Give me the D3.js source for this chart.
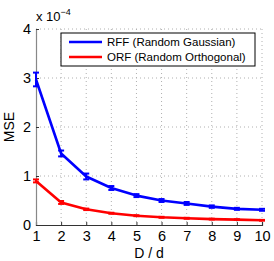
<!DOCTYPE html>
<html>
<head>
<meta charset="utf-8">
<script src="https://cdn.jsdelivr.net/npm/d3@7"></script>
<style>
  body { margin: 0; background: #fff; }
  text { font-family: "Liberation Sans", Arial, sans-serif; }
</style>
</head>
<body>
<div id="chart"></div>
<script>
// data (MSE in units of 1e-4)
var ratios = [1, 2, 3, 4, 5, 6, 7, 8, 9, 10];
var rffMse = [2.97, 1.46, 0.99, 0.755, 0.6, 0.5, 0.44, 0.375, 0.33, 0.31];
var rffErr = [0.14, 0.06, 0.06, 0.04, 0.03, 0.03, 0.03, 0.025, 0.02, 0.02];
var orfMse = [0.9, 0.46, 0.32, 0.24, 0.19, 0.157, 0.137, 0.12, 0.11, 0.096];
var orfErr = [0.03, 0.03, 0.015, 0.01, 0.01, 0.01, 0.01, 0.008, 0.008, 0.008];
var xTicks = [1, 2, 3, 4, 5, 6, 7, 8, 9, 10];
var yTicks = [0, 1, 2, 3, 4];
var seriesNames = ['RFF (Random Gaussian)', 'ORF (Random Orthogonal)'];
var seriesColors = ['#0000ff', '#ff0000'];

var svgWidth = 274, svgHeight = 261;
var margin = { top: 29, right: 12, bottom: 36, left: 36 };
var width = svgWidth - margin.left - margin.right;
var height = svgHeight - margin.top - margin.bottom;

var svg = d3.select('#chart').append('svg')
    .attr('width', svgWidth)
    .attr('height', svgHeight);

var chartGroup = svg.append('g')
    .attr('transform', `translate(${margin.left}, ${margin.top})`);

var xScale = d3.scaleLinear().domain([1, 10]).range([0, width]);
var yScale = d3.scaleLinear().domain([0, 4]).range([height, 0]);

// dotted grid
chartGroup.append('g').selectAll('line')
    .data(xTicks.slice(1))
    .enter().append('line')
    .attr('x1', d => xScale(d)).attr('x2', d => xScale(d))
    .attr('y1', 0).attr('y2', height)
    .attr('stroke', '#b0b0b0')
    .attr('stroke-dasharray', '1,3');

chartGroup.append('g').selectAll('line')
    .data(yTicks.slice(1))
    .enter().append('line')
    .attr('x1', 0).attr('x2', width)
    .attr('y1', d => yScale(d)).attr('y2', d => yScale(d))
    .attr('stroke', '#b0b0b0')
    .attr('stroke-dasharray', '1,3');

// axes
var bottomAxis = d3.axisBottom(xScale).tickValues(xTicks).tickFormat(d3.format('d'))
    .tickSize(-3).tickPadding(6);
var leftAxis = d3.axisLeft(yScale).tickValues(yTicks).tickFormat(d3.format('d'))
    .tickSize(-3).tickPadding(5);

var xAxis = chartGroup.append('g')
    .attr('transform', `translate(0, ${height})`)
    .call(bottomAxis);
var yAxis = chartGroup.append('g').call(leftAxis);

[xAxis, yAxis].forEach(a => {
    a.select('.domain').attr('stroke', '#333').attr('stroke-width', 1.2);
    a.selectAll('.tick line').attr('stroke', '#333');
    a.selectAll('.tick text').attr('font-size', 14.5).attr('fill', '#000')
        .attr('font-family', '"Liberation Sans", Arial, sans-serif');
});
yAxis.select('.domain').attr('stroke', '#888');

// labels
chartGroup.append('text')
    .attr('x', width / 2).attr('y', height + 33)
    .attr('text-anchor', 'middle').attr('font-size', 14)
    .text('D / d');

chartGroup.append('text')
    .attr('transform', `translate(${-22}, ${height / 2}) rotate(-90)`)
    .attr('text-anchor', 'middle').attr('font-size', 14)
    .text('MSE');

var expText = chartGroup.append('text')
    .attr('x', 0).attr('y', -8).attr('font-size', 13);
expText.append('tspan').text('x 10');
expText.append('tspan').attr('dy', -6).attr('font-size', 9).text('\u22124');

// series
var line = d3.line().x((d, i) => xScale(ratios[i])).y(d => yScale(d));

function drawSeries(values, errs, color) {
    chartGroup.append('path')
        .datum(values)
        .attr('d', line)
        .attr('fill', 'none')
        .attr('stroke', color)
        .attr('stroke-width', 2.6)
        .attr('stroke-linejoin', 'round');

    var bars = chartGroup.append('g').selectAll('g')
        .data(values).enter().append('g')
        .attr('stroke', color).attr('stroke-width', 2);
    bars.append('line')
        .attr('x1', (d, i) => xScale(ratios[i])).attr('x2', (d, i) => xScale(ratios[i]))
        .attr('y1', (d, i) => yScale(d - errs[i])).attr('y2', (d, i) => yScale(d + errs[i]));
    bars.append('line')
        .attr('x1', (d, i) => xScale(ratios[i]) - 3).attr('x2', (d, i) => xScale(ratios[i]) + 3)
        .attr('y1', (d, i) => yScale(d + errs[i])).attr('y2', (d, i) => yScale(d + errs[i]));
    bars.append('line')
        .attr('x1', (d, i) => xScale(ratios[i]) - 3).attr('x2', (d, i) => xScale(ratios[i]) + 3)
        .attr('y1', (d, i) => yScale(d - errs[i])).attr('y2', (d, i) => yScale(d - errs[i]));
}

drawSeries(rffMse, rffErr, seriesColors[0]);
drawSeries(orfMse, orfErr, seriesColors[1]);

// legend
var legend = svg.append('g').attr('transform', 'translate(61, 33)');
legend.append('rect')
    .attr('width', 194).attr('height', 33)
    .attr('fill', '#fff').attr('stroke', '#000').attr('stroke-width', 1);

seriesNames.forEach((name, i) => {
    legend.append('line')
        .attr('x1', 8).attr('x2', 41)
        .attr('y1', 9 + i * 15).attr('y2', 9 + i * 15)
        .attr('stroke', seriesColors[i]).attr('stroke-width', 2.6);
    legend.append('text')
        .attr('x', 46).attr('y', 13 + i * 15)
        .attr('font-size', 11.5)
        .text(name);
});
</script>
</body>
</html>
